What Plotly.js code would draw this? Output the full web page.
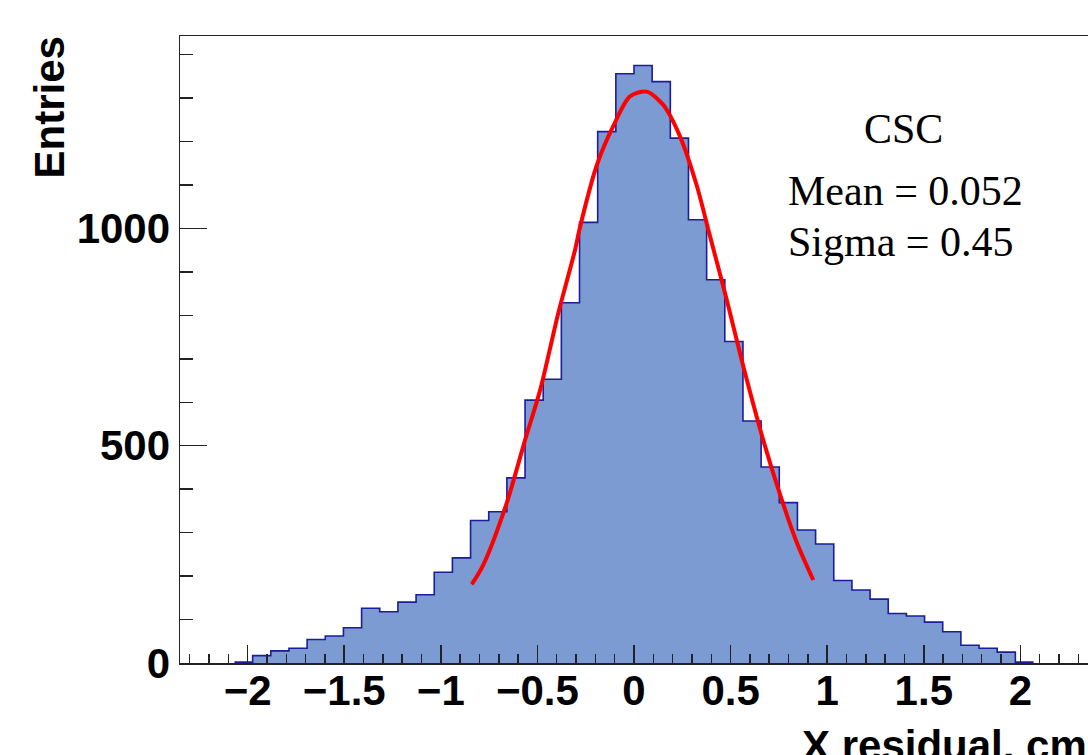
<!DOCTYPE html>
<html>
<head>
<meta charset="utf-8">
<script src="https://cdn.plot.ly/plotly-3.0.1.min.js"></script>
<style>
  html, body { margin: 0; padding: 0; background: #ffffff; }
  #chart { width: 1088px; height: 755px; }
</style>
</head>
<body>
<div id="chart"></div>
<script>
// Histogram bin edges (51 edges -> 50 bins)
const binEdges = [-2.35, -2.256, -2.162, -2.068, -1.974, -1.88, -1.786, -1.692, -1.598, -1.504,
  -1.41, -1.316, -1.222, -1.128, -1.034, -0.94, -0.846, -0.752, -0.658, -0.564,
  -0.47, -0.376, -0.282, -0.188, -0.094, 0, 0.094, 0.188, 0.282, 0.376,
  0.47, 0.564, 0.658, 0.752, 0.846, 0.94, 1.034, 1.128, 1.222, 1.316,
  1.41, 1.504, 1.598, 1.692, 1.786, 1.88, 1.974, 2.068, 2.162, 2.256, 2.35];

// Entries per bin
const binCounts = [0, 0, 0, 2, 17, 28, 34, 54, 62, 81,
  126, 118, 140, 157, 209, 242, 328, 348, 426, 605,
  653, 829, 1014, 1223, 1356, 1375, 1338, 1208, 1020, 882,
  740, 557, 451, 369, 306, 274, 190, 168, 147, 114,
  108, 94, 72, 41, 34, 25, 2, 0, 0, 0];

// Gaussian fit curve
const fitX = [-0.840, -0.780, -0.659, -0.564, -0.486, -0.392, -0.305, -0.279, -0.193, -0.107,
  -0.021, 0.066, 0.152, 0.238, 0.324, 0.393, 0.480, 0.565, 0.669, 0.755, 0.842, 0.928];
const fitY = [181, 226, 368, 513, 628, 805, 951, 1004, 1145, 1236,
  1304, 1315, 1284, 1212, 1100, 983, 836, 684, 513, 389, 278, 191];

const tickVals = [-2, -1.5, -1, -0.5, 0, 0.5, 1, 1.5, 2];
const tickText = ['\u22122', '\u22121.5', '\u22121', '\u22120.5', '0', '0.5', '1', '1.5', '2'];
const yTickVals = [0, 500, 1000];
const yTickText = ['0', '500', '1000'];

const labelTitle = 'CSC';
const labelMean = 'Mean = 0.052';
const labelSigma = 'Sigma = 0.45';
const xTitle = 'X residual, cm';
const yTitle = 'Entries';

// step outline over the filled bins only (empty bins sit on the axis)
let first = binCounts.findIndex(v => v > 0);
let last = binCounts.length - 1;
while (last > 0 && binCounts[last] === 0) last--;
const stepX = binEdges.slice(first, last + 2);
const stepY = binCounts.slice(first, last + 1).concat([binCounts[last]]);

const histTrace = {
  type: 'scatter',
  mode: 'lines',
  x: stepX,
  y: stepY,
  line: { shape: 'hv', color: '#1c1c9c', width: 1.6 },
  fill: 'tozeroy',
  fillcolor: 'rgb(123,155,210)',
  hoverinfo: 'skip'
};

const fitTrace = {
  type: 'scatter',
  mode: 'lines',
  x: fitX,
  y: fitY,
  line: { shape: 'spline', smoothing: 0.8, color: '#ff0000', width: 4 },
  hoverinfo: 'skip'
};

const sansBold = { family: 'Liberation Sans, Arial, sans-serif', size: 42, color: '#000000', weight: 700 };
const serif = { family: 'Liberation Serif, Times New Roman, serif', size: 42, color: '#000000' };

const layout = {
  width: 1088,
  height: 755,
  margin: { l: 180, r: 0, t: 36, b: 92, pad: 0 },
  paper_bgcolor: '#ffffff',
  plot_bgcolor: '#ffffff',
  showlegend: false,
  xaxis: {
    range: [-2.35, 2.35],
    tickmode: 'array',
    tickvals: tickVals,
    ticktext: tickText,
    ticks: 'inside',
    ticklen: 18,
    tickwidth: 1.5,
    tickcolor: '#222222',
    showline: true,
    linecolor: '#222222',
    linewidth: 1.5,
    mirror: true,
    showgrid: false,
    zeroline: false,
    tickfont: sansBold,
    ticklabelstandoff: -10,
    layer: 'above traces',
    minor: { dtick: 0.1, tick0: 0, ticks: 'inside', ticklen: 9, tickwidth: 1.5, tickcolor: '#222222', showgrid: false },
    fixedrange: true
  },
  yaxis: {
    range: [0, 1443],
    tickmode: 'array',
    tickvals: yTickVals,
    ticktext: yTickText,
    ticks: 'inside',
    ticklen: 27,
    tickwidth: 1.5,
    tickcolor: '#222222',
    showline: true,
    linecolor: '#222222',
    linewidth: 1.5,
    mirror: true,
    showgrid: false,
    zeroline: false,
    tickfont: sansBold,
    ticklabelstandoff: 0,
    layer: 'above traces',
    minor: { dtick: 100, tick0: 0, ticks: 'inside', ticklen: 13, tickwidth: 1.5, tickcolor: '#222222', showgrid: false },
    fixedrange: true
  },
  annotations: [
    { text: labelTitle, xref: 'paper', yref: 'paper', x: 0.7963, y: 0.8517, xanchor: 'center', yanchor: 'middle', showarrow: false, font: serif, borderpad: 0 },
    { text: labelMean, xref: 'paper', yref: 'paper', x: 0.6685, y: 0.7528, xanchor: 'left', yanchor: 'middle', showarrow: false, font: serif, borderpad: 0 },
    { text: labelSigma, xref: 'paper', yref: 'paper', x: 0.6685, y: 0.6707, xanchor: 'left', yanchor: 'middle', showarrow: false, font: serif, borderpad: 0 },
    { text: xTitle, xref: 'paper', yref: 'paper', x: 1.0, y: -0.1308, xanchor: 'right', yanchor: 'middle', showarrow: false, font: sansBold, borderpad: 0 },
    { text: yTitle, xref: 'paper', yref: 'paper', x: -0.1432, y: 0.886, xanchor: 'center', yanchor: 'middle', textangle: -90, showarrow: false, font: sansBold, borderpad: 0 }
  ]
};

Plotly.newPlot('chart', [histTrace, fitTrace], layout, { staticPlot: true, displayModeBar: false });
</script>
</body>
</html>
